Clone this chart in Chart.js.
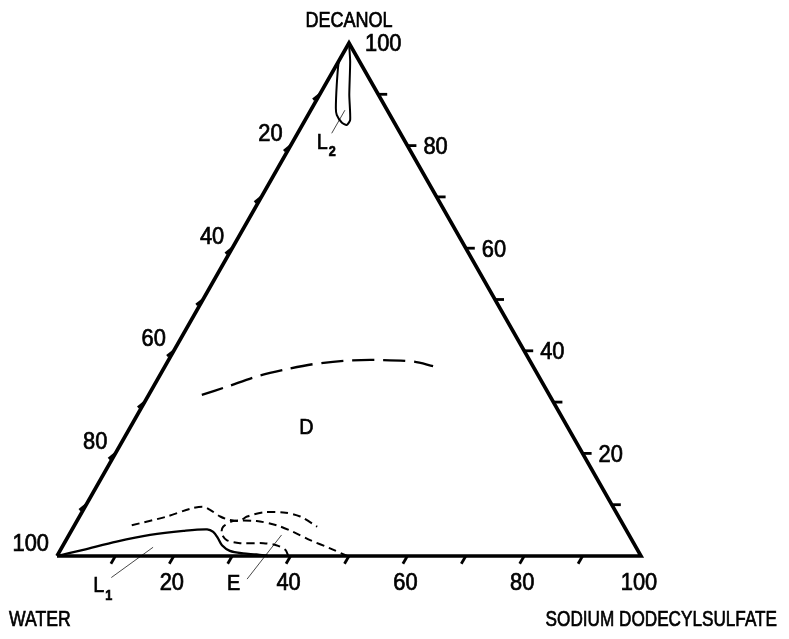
<!DOCTYPE html>
<html>
<head>
<meta charset="utf-8">
<script src="https://cdn.jsdelivr.net/npm/chart.js@4.4.1/dist/chart.umd.min.js"></script>
<style>
  html, body { margin: 0; padding: 0; background: #ffffff; }
  #wrap { width: 789px; height: 639px; }
</style>
</head>
<body>
<div id="wrap"><canvas id="phase" width="789" height="639"></canvas></div>
<script>
// Compositions are [SDS %, decanol %]; water makes up the rest.
const cornerNames = ['WATER', 'SODIUM DODECYLSULFATE', 'DECANOL'];
const triangleEdge = [[0, 0], [100, 0], [0, 100], [0, 0]];

const minorTicks = [10, 20, 30, 40, 50, 60, 70, 80, 90];
const tickLabels = [20, 40, 60, 80, 100];

// L1: isotropic aqueous solution along the water/SDS edge
const l1Boundary = [
  [0, 0], [3.9, 1.2], [8.8, 2.8], [13.9, 4.1], [19.2, 4.9], [23.1, 5.2],
  [24.4, 4.7], [25.8, 3.5], [27.2, 2.1], [29.1, 1.0], [31.6, 0.5], [34.0, 0.3], [36.1, 0]
];
// dashed boundary above L1
const upperDashed = [
  [9.8, 6.0], [15.0, 7.7], [18.2, 9.2], [20.2, 9.6], [21.7, 9.0], [24.1, 7.7],
  [26.1, 7.0], [27.9, 6.9], [28.7, 7.7], [31.1, 8.5], [34.5, 8.5], [37.8, 7.7], [41.7, 5.7]
];
// E: hexagonal phase lobe
const eBoundary = [
  [39.6, 0], [38.5, 1.2], [36.5, 2.1], [34.1, 2.5], [30.1, 2.5], [27.5, 3.1], [26.0, 4.4],
  [25.6, 5.7], [26.8, 6.8], [30.8, 6.8], [34.6, 6.0], [38.1, 4.7], [41.8, 3.1], [46.0, 1.5], [49.7, 0]
];
// upper limit of the lamellar phase D
const dBoundary = [
  [9.1, 31.4], [12.6, 33.0], [16.7, 35.0], [21.1, 36.4], [25.2, 37.4],
  [30.6, 38.1], [36.2, 38.2], [42.1, 37.9], [45.9, 37.0]
];
// L2: decanol-rich solution near the decanol corner
const l2Boundary = [
  [0, 100], [0, 97.1], [0.2, 96.0], [2.0, 91.8], [4.1, 87.3], [4.9, 86.0], [6.5, 84.5],
  [7.6, 84.0], [7.7, 85.0], [5.1, 89.9], [2.0, 96.4], [0, 100]
];

// region names: [text, subscript, SDS %, decanol %]
const regionLabels = [
  ['D', '', 30.2, 25.0],
  ['L', '2', 5.1, 80.6],
  ['L', '1', 10.1, -5.9],
  ['E', '', 33.0, -5.5]
];
// thin pointer lines from a region name into its region
const pointerLines = [
  [[5.85, 86.9], [5.84, 82.4]],
  [[15.6, 1.7], [11.4, -4.2]],
  [[36.4, 4.1], [34.8, -4.5]]
];

// ternary composition -> plane coordinates used by the linear scales
const toPlane = ([s, d]) => ({ x: s + d / 2, y: d });

const FONT = '"Liberation Sans", Arial, sans-serif';

function lineSet(points, opts) {
  return Object.assign({
    data: points.map(toPlane),
    showLine: true,
    pointRadius: 0,
    borderColor: '#000000',
    backgroundColor: 'rgba(0,0,0,0)',
    fill: false,
    borderWidth: 2.2,
    tension: 0.3
  }, opts);
}

const datasets = [
  lineSet(triangleEdge, { borderWidth: 3.6, tension: 0, borderJoinStyle: 'miter' }),
  lineSet(l1Boundary, { borderWidth: 2.3 }),
  lineSet(upperDashed, { borderWidth: 2.0, borderDash: [8, 5] }),
  lineSet(eBoundary, { borderWidth: 2.0, borderDash: [8, 5] }),
  lineSet(dBoundary, { borderWidth: 2.3, borderDash: [22, 9] }),
  lineSet(l2Boundary, { borderWidth: 2.0, tension: 0.2 })
];
pointerLines.forEach(p => datasets.push(lineSet(p, { borderWidth: 0.9, tension: 0, borderColor: '#333333' })));

// condensed, slightly heavy lettering squeezed horizontally around its anchor
function squeezedText(ctx, txt, x, y, align, squeeze) {
  ctx.save();
  ctx.translate(x, y);
  ctx.scale(squeeze, 1);
  ctx.textAlign = align;
  ctx.lineWidth = 0.7;
  ctx.strokeStyle = '#000';
  ctx.fillText(txt, 0, 0);
  ctx.strokeText(txt, 0, 0);
  ctx.restore();
}

// axis ticks, numbers and corner names, placed through the chart scales
const ternaryAxes = {
  id: 'ternaryAxes',
  afterDatasetsDraw(chart) {
    const { ctx, scales: { x, y } } = chart;
    const px = (s, d) => {
      const p = toPlane([s, d]);
      return [x.getPixelForValue(p.x), y.getPixelForValue(p.y)];
    };
    const L = 9;
    ctx.save();
    ctx.strokeStyle = '#000';
    ctx.lineWidth = 2.8;
    ctx.lineCap = 'butt';
    minorTicks.forEach(t => {
      // bottom edge (SDS), ticks slant down-left
      let [a, b] = px(t, 0);
      ctx.beginPath(); ctx.moveTo(a, b); ctx.lineTo(a - 0.5 * L, b + 0.866 * L); ctx.stroke();
      // right edge (decanol), ticks point right
      [a, b] = px(100 - t, t);
      ctx.beginPath(); ctx.moveTo(a, b); ctx.lineTo(a + L, b); ctx.stroke();
      // left edge (water), ticks point out to the left
      [a, b] = px(0, 100 - t);
      ctx.beginPath(); ctx.moveTo(a, b); ctx.lineTo(a - 0.75 * L, b + 0.6 * L); ctx.stroke();
    });

    ctx.fillStyle = '#000';
    ctx.font = '23px ' + FONT;
    ctx.textBaseline = 'middle';
    tickLabels.forEach(v => {
      let [a, b] = px(v, 0);
      squeezedText(ctx, String(v), a - 2, b + 28, 'center', 0.95);
      [a, b] = px(100 - v, v);
      squeezedText(ctx, String(v), a + 16, b + 2, 'left', 0.95);
      [a, b] = px(0, 100 - v);
      squeezedText(ctx, String(v), a - 8, b - 11, 'right', 0.95);
    });

    ctx.font = '22px ' + FONT;
    let [a, b] = px(0, 0);
    squeezedText(ctx, cornerNames[0], a - 48, b + 64, 'left', 0.8);
    [a, b] = px(100, 0);
    squeezedText(ctx, cornerNames[1], a + 136, b + 64, 'right', 0.78);
    [a, b] = px(0, 100);
    squeezedText(ctx, cornerNames[2], a, b - 22, 'center', 0.82);

    regionLabels.forEach(([txt, sub, s, d]) => {
      const [c, e] = px(s, d);
      ctx.font = '22px ' + FONT;
      squeezedText(ctx, txt, c, e, 'center', 0.9);
      if (sub) {
        const w = ctx.measureText(txt).width * 0.9;
        ctx.font = 'bold 14px ' + FONT;
        squeezedText(ctx, sub, c + w / 2 + 1, e + 10, 'left', 0.9);
      }
    });
    ctx.restore();
  }
};

new Chart(document.getElementById('phase'), {
  type: 'scatter',
  data: { datasets },
  options: {
    responsive: false,
    animation: false,
    devicePixelRatio: 1,
    layout: { padding: 0 },
    plugins: { legend: { display: false }, tooltip: { enabled: false }, title: { display: false } },
    scales: {
      x: { type: 'linear', display: false, min: -9.760, max: 125.342 },
      y: { type: 'linear', display: false, min: -16.179, max: 108.382 }
    }
  },
  plugins: [ternaryAxes]
});
</script>
</body>
</html>
